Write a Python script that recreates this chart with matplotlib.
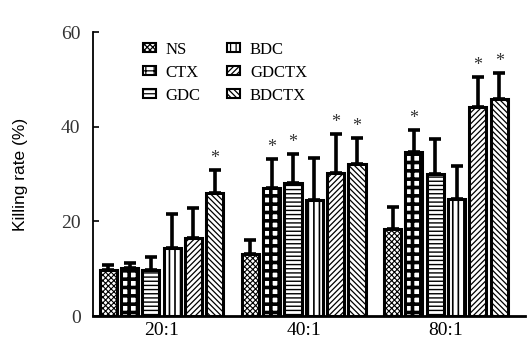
"""Killing rate bar chart with hatched bars."""

import numpy as np
import matplotlib

matplotlib.use("agg")
import matplotlib.pyplot as plt
from matplotlib import rcParams

rcParams["font.family"] = "Liberation Serif"
rcParams["hatch.color"] = "black"

ratios = ["20:1", "40:1", "80:1"]
groups = ["NS", "CTX", "GDC", "BDC", "GDCTX", "BDCTX"]

ns_vals = [9.7, 13.1, 18.4]
ns_err = [1.1, 2.9, 4.6]
ctx_vals = [10.2, 27.0, 34.7]
ctx_err = [1.0, 6.2, 4.6]
gdc_vals = [9.7, 28.1, 30.0]
gdc_err = [2.7, 6.1, 7.4]
bdc_vals = [14.4, 24.5, 24.7]
bdc_err = [7.1, 8.9, 7.0]
gdctx_vals = [16.5, 30.3, 44.2]
gdctx_err = [6.4, 8.1, 6.3]
bdctx_vals = [26.0, 32.1, 45.8]
bdctx_err = [4.8, 5.5, 5.5]

# significance markers (*)
ns_sig = [False, False, False]
ctx_sig = [False, True, True]
gdc_sig = [False, True, False]
bdc_sig = [False, False, False]
gdctx_sig = [False, True, True]
bdctx_sig = [True, True, True]

all_vals = [ns_vals, ctx_vals, gdc_vals, bdc_vals, gdctx_vals, bdctx_vals]
all_err = [ns_err, ctx_err, gdc_err, bdc_err, gdctx_err, bdctx_err]
all_sig = [ns_sig, ctx_sig, gdc_sig, bdc_sig, gdctx_sig, bdctx_sig]
hatches = ["xxxxxx", "++", "----", "|||", "//////", "\\\\\\\\\\\\"]
hatch_lw = [0.8, 2.6, 1.0, 1.2, 0.9, 0.9]

fig = plt.figure(figsize=(5.29, 3.51), dpi=100)
ax1 = fig.add_axes([0.176, 0.0997, 0.816, 0.809])

x_pos = np.arange(len(ratios))
pitch = 0.150
width = 0.12

handles = []
for idx, name in enumerate(groups):
    rcParams["hatch.linewidth"] = hatch_lw[idx]
    xx = x_pos + (idx - 2.5) * pitch
    vals = np.array(all_vals[idx])
    errs = np.array(all_err[idx])
    ax1.errorbar(
        xx,
        vals,
        yerr=[np.zeros_like(errs), errs],
        fmt="none",
        ecolor="black",
        elinewidth=2.6,
        capsize=4,
        capthick=2.6,
        zorder=2,
    )
    bars = ax1.bar(
        xx,
        vals,
        width=width,
        color="white",
        edgecolor="black",
        linewidth=2.2,
        hatch=hatches[idx],
        label=name,
        zorder=3,
    )
    handles.append(bars)
    for xi, vi, ei, si in zip(xx, vals, errs, all_sig[idx]):
        if si:
            ax1.text(
                xi, vi + ei + 0.6, "*", ha="center", va="bottom",
                fontsize=13, color="#333333",
            )

ax1.set_xlim(-0.481, 2.555)
ax1.set_ylim(0, 60)
ax1.set_yticks([0, 20, 40, 60])
ax1.set_xticks(x_pos)
ax1.set_xticklabels(ratios)
ax1.tick_params(axis="y", direction="in", length=4, width=1.2, labelsize=14, pad=9,
                labelcolor="#333333")
ax1.tick_params(axis="x", length=0, labelsize=14, pad=4)
ax1.spines["top"].set_visible(False)
ax1.spines["right"].set_visible(False)
ax1.spines["left"].set_linewidth(1.3)
ax1.spines["bottom"].set_linewidth(2.0)
ax1.set_ylabel("Killing rate (%)", family="Liberation Sans", fontsize=12.5, labelpad=24)

leg = ax1.legend(
    handles=handles,
    ncol=2,
    loc="upper left",
    bbox_to_anchor=(0.255, 0.905),
    bbox_transform=fig.transFigure,
    frameon=False,
    fontsize=12,
    handlelength=0.75,
    handleheight=0.45,
    handletextpad=0.6,
    columnspacing=1.6,
    labelspacing=0.42,
    borderpad=0,
)
for patch in leg.get_patches():
    patch.set_linewidth(1.5)

plt.savefig("out.png", dpi=100)
plt.close(fig)
